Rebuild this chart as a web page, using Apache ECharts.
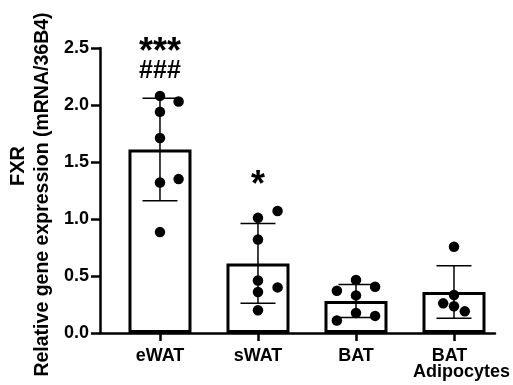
<!DOCTYPE html>
<html><head><meta charset="utf-8">
<script src="https://cdn.jsdelivr.net/npm/echarts@6/dist/echarts.min.js"></script>
<style>html,body{margin:0;padding:0;background:#fff}#c{width:513px;height:385px}</style>
</head><body><div id="c"></div>
<script>
const categories = ['eWAT', 'sWAT', 'BAT', 'BAT\nAdipocytes'];
const means = [1.61, 0.61, 0.28, 0.36];
const sds = [0.45, 0.35, 0.145, 0.23];
const pointsEWAT = [2.08, 2.03, 1.94, 1.71, 1.35, 1.32, 0.885];
const pointsSWAT = [1.07, 1.01, 0.82, 0.46, 0.40, 0.36, 0.20];
const pointsBAT = [0.465, 0.405, 0.37, 0.33, 0.175, 0.15, 0.11];
const pointsAdipo = [0.757, 0.333, 0.26, 0.235, 0.19];
const jitterEWAT = [0, 0.19, 0, 0, 0.19, 0, 0];
const jitterSWAT = [0.2, 0, 0, 0, 0.2, 0, 0];
const jitterBAT = [0, 0.195, -0.195, 0, 0, 0.195, -0.195];
const jitterAdipo = [0, 0, -0.11, 0, 0.11];
const stars = ['***', '*', '', ''];
const hashes = ['###', '', '', ''];
const yTickLabels = ['0.0', '0.5', '1.0', '1.5', '2.0', '2.5'];

const allPoints = [pointsEWAT, pointsSWAT, pointsBAT, pointsAdipo];
const allJitter = [jitterEWAT, jitterSWAT, jitterBAT, jitterAdipo];
const scatterData = [];
allPoints.forEach((arr, i) => arr.forEach((v, k) => scatterData.push([i + allJitter[i][k], v])));

const FONT = "'Liberation Sans', Arial, sans-serif";
const chart = echarts.init(document.getElementById('c'));
chart.setOption({
  backgroundColor: '#fff',
  animation: false,
  textStyle: { fontFamily: FONT },
  grid: { left: 100, top: 48, right: 18, bottom: 52 },
  xAxis: {
    type: 'value', min: -0.612, max: 3.418,
    axisLine: { show: true, onZero: false, lineStyle: { color: '#000', width: 2.5 } },
    axisTick: { show: true, customValues: [0, 1, 2, 3], length: 8, lineStyle: { color: '#000', width: 2.5 } },
    axisLabel: {
      customValues: [0, 1, 2, 3], color: '#000', fontSize: 18, fontWeight: 'bold', margin: 15, lineHeight: 16,
      formatter: v => {
        const s = categories[Math.round(v)];
        if (s.indexOf('\n') >= 0) { const p = s.split('\n'); return '{a|' + p[0] + '}\n{b|' + p[1] + '}'; }
        return s;
      },
      rich: {
        a: { fontSize: 18, fontWeight: 'bold', color: '#000', padding: [0, 9, 0, 0], lineHeight: 16 },
        b: { fontSize: 18, fontWeight: 'bold', color: '#000', padding: [0, 0, 0, 15], lineHeight: 16 }
      }
    },
    splitLine: { show: false }
  },
  yAxis: {
    type: 'value', min: 0, max: 2.5, interval: 0.5,
    name: 'Relative gene expression (mRNA/36B4)', nameLocation: 'middle', nameGap: 41,
    nameTextStyle: { fontSize: 19.5, fontWeight: 'bold', color: '#000', padding: [0, 8, 0, 0] },
    axisLine: { show: true, onZero: false, lineStyle: { color: '#000', width: 2.5 } },
    axisTick: { show: true, length: 9, lineStyle: { color: '#000', width: 2.5 } },
    axisLabel: { color: '#000', fontSize: 18, fontWeight: 'bold', margin: 11,
      formatter: v => yTickLabels[Math.round(v / 0.5)] },
    splitLine: { show: false }
  },
  graphic: [{
    type: 'text', x: 18, y: 166, rotation: Math.PI / 2,
    style: { text: 'FXR', font: 'bold 20px ' + FONT, fill: '#000', align: 'center', verticalAlign: 'middle' }
  }],
  series: [
    {
      type: 'bar', barWidth: 63, z: 2,
      data: means.map((m, i) => [i, m]),
      itemStyle: { color: '#fff', borderColor: '#000', borderWidth: 3 }
    },
    {
      type: 'custom', z: 3,
      data: means.map((m, i) => [i, m - sds[i], m + sds[i]]),
      renderItem: (params, api) => {
        const lo = api.coord([api.value(0), api.value(1)]);
        const hi = api.coord([api.value(0), api.value(2)]);
        const hw = 17.5;
        const st = { stroke: '#000', lineWidth: 1.5 };
        return { type: 'group', children: [
          { type: 'line', shape: { x1: lo[0], y1: lo[1], x2: hi[0], y2: hi[1] }, style: st },
          { type: 'line', shape: { x1: hi[0] - hw, y1: hi[1], x2: hi[0] + hw, y2: hi[1] }, style: st },
          { type: 'line', shape: { x1: lo[0] - hw, y1: lo[1], x2: lo[0] + hw, y2: lo[1] }, style: st }
        ] };
      }
    },
    {
      type: 'scatter', z: 4, symbolSize: 10.5,
      itemStyle: { color: '#000', opacity: 1 },
      data: scatterData
    },
    {
      type: 'custom', z: 5,
      data: allPoints.map((arr, i) => [i, Math.max.apply(null, arr)]),
      renderItem: (params, api) => {
        const i = params.dataIndex;
        const p = api.coord([api.value(0), api.value(1)]);
        const children = [];
        let y = p[1] - 25;
        if (hashes[i]) {
          children.push({ type: 'text', x: p[0], y: y, style: { text: hashes[i], font: 'bold 25px ' + FONT, fill: '#000', align: 'center', verticalAlign: 'middle' } });
          y -= 18;
        }
        if (stars[i]) {
          children.push({ type: 'text', x: p[0], y: y, style: { text: stars[i], font: 'bold 36px ' + FONT, fill: '#000', align: 'center', verticalAlign: 'middle' } });
        }
        return { type: 'group', children: children };
      }
    }
  ]
});
</script></body></html>
